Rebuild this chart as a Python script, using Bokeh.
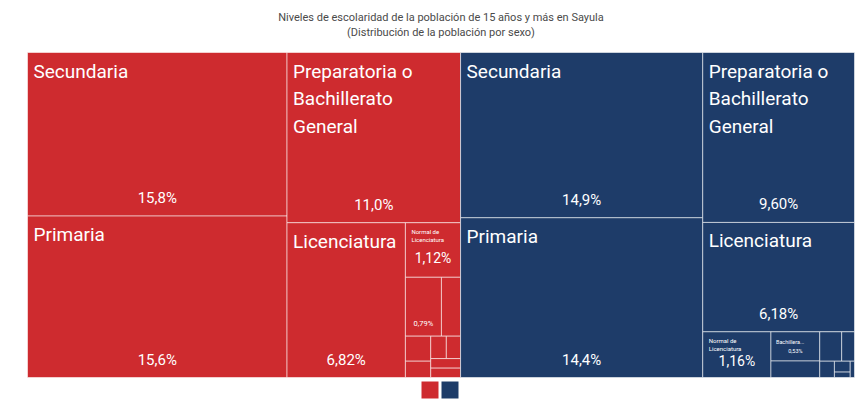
import math
from bokeh.plotting import figure
from bokeh.models import Range1d, ColumnDataSource
from bokeh.core.properties import value
from bokeh.embed import file_html
from bokeh.resources import INLINE

# ---------------- data ----------------
title_line1 = "Niveles de escolaridad de la población de 15 años y más en Sayula"
title_line2 = "(Distribución de la población por sexo)"

groups = ["Mujer", "Hombre"]
group_colors = ["#CE2B2F", "#1E3C69"]

mujer_names = ["Secundaria", "Primaria", "Preparatoria o Bachillerato General", "Licenciatura",
               "Normal de Licenciatura",
               "Estudios Técnicos o Comerciales con Secundaria Terminada",
               "Bachillerato Tecnológico", "Maestría",
               "Estudios Técnicos o Comerciales con Preparatoria Terminada",
               "Preescolar", "Normal Básica", "Especialidad", "Doctorado"]
mujer_values = [15.8, 15.6, 11.0, 6.82, 1.12, 0.79, 0.42, 0.236, 0.154, 0.130, 0.119, 0.106, 0.104]

hombre_names = ["Secundaria", "Primaria", "Preparatoria o Bachillerato General", "Licenciatura",
                "Normal de Licenciatura", "Bachillerato Tecnológico",
                "Estudios Técnicos o Comerciales con Secundaria Terminada", "Maestría",
                "Estudios Técnicos o Comerciales con Preparatoria Terminada",
                "Preescolar", "Normal Básica", "Especialidad", "Doctorado"]
hombre_values = [14.9, 14.4, 9.60, 6.18, 1.16, 0.53, 0.30, 0.24, 0.14, 0.089, 0.064, 0.032, 0.026]

# ---------------- layout (d3-style squarified treemap) ----------------
PHI = (1 + 5 ** 0.5) / 2


def squarify(vals, x0, y0, x1, y1, ratio=PHI):
    rects = []
    n = len(vals)
    i0 = i1 = 0
    total = float(sum(vals))
    while i0 < n:
        dx, dy = x1 - x0, y1 - y0
        s = vals[i1]
        i1 += 1
        mn = mx = s
        alpha = max(dy / dx, dx / dy) / (total * ratio)
        beta = s * s * alpha
        min_ratio = max(mx / beta, beta / mn)
        while i1 < n:
            v = vals[i1]
            s2 = s + v
            mn2, mx2 = min(mn, v), max(mx, v)
            beta = s2 * s2 * alpha
            nr = max(mx2 / beta, beta / mn2)
            if nr > min_ratio:
                break
            s, mn, mx, min_ratio = s2, mn2, mx2, nr
            i1 += 1
        row = vals[i0:i1]
        if dx < dy:
            ny = y0 + dy * s / total
            x = x0
            for v in row:
                w = (x1 - x0) * v / s
                rects.append((x, y0, x + w, ny))
                x += w
            y0 = ny
        else:
            nx = x0 + dx * s / total
            y = y0
            for v in row:
                h = (y1 - y0) * v / s
                rects.append((x0, y, nx, y + h))
                y += h
            x0 = nx
        total -= s
        i0 = i1
    return rects


def fmt_pct(v):
    d = 1 if v >= 10 else 2
    return f"{v:.{d}f}".replace(".", ",") + "%"


def wrap(text, maxw, fs, cw=0.48):
    maxc = max(1, int(maxw / (fs * cw)))
    lines, cur = [], ""
    for w in text.split():
        t = (cur + " " + w).strip()
        if len(t) <= maxc:
            cur = t
        else:
            if cur:
                lines.append(cur)
            cur = w
    if cur:
        lines.append(cur)
    return "\n".join(lines)


def truncate(text, maxw, fs, cw=0.5):
    maxc = max(1, int(maxw / (fs * cw)))
    if len(text) <= maxc:
        return text
    first = text.split()[0]
    return first[: maxc - 3] + "..."


X0, X1, Y0, Y1 = 27, 854, 52, 377
group_totals = [sum(mujer_values), sum(hombre_values)]
group_rects = squarify(group_totals, X0, Y0, X1, Y1)

cells = dict(left=[], right=[], top=[], bottom=[], color=[])
labels = {k: dict(x=[], y=[], text=[]) for k in
          ["nameA", "pctA", "nameB", "pctB", "nameC", "pctC", "pctD"]}

for (gx0, gy0, gx1, gy1), names, vals, col in zip(group_rects, [mujer_names, hombre_names],
                                                   [mujer_values, hombre_values], group_colors):
    for (x0, y0, x1, y1), nm, v in zip(squarify(vals, gx0, gy0, gx1, gy1), names, vals):
        cells["left"].append(x0)
        cells["right"].append(x1)
        cells["top"].append(y0)
        cells["bottom"].append(y1)
        cells["color"].append(col)
        w, h = x1 - x0, y1 - y0
        xc = (x0 + x1) / 2
        if w >= 100 and h >= 90:
            labels["nameA"]["x"].append(x0 + 6)
            labels["nameA"]["y"].append(y0 + 7)
            labels["nameA"]["text"].append(wrap(nm, w - 12, 19))
            labels["pctA"]["x"].append(xc)
            labels["pctA"]["y"].append(y1 - 18)
            labels["pctA"]["text"].append(fmt_pct(v))
        elif w >= 50 and h >= 40:
            labels["nameB"]["x"].append(x0 + 6)
            labels["nameB"]["y"].append(y0 + 5)
            labels["nameB"]["text"].append(wrap(nm, w - 12, 6))
            labels["pctB"]["x"].append(xc)
            labels["pctB"]["y"].append(max(y0 + 29, y1 - 19))
            labels["pctB"]["text"].append(fmt_pct(v))
        elif w >= 40 and h >= 25:
            labels["nameC"]["x"].append(x0 + 5)
            labels["nameC"]["y"].append(y0 + 7)
            labels["nameC"]["text"].append(truncate(nm, w - 12, 5.5))
            labels["pctC"]["x"].append(xc)
            labels["pctC"]["y"].append(y0 + 16)
            labels["pctC"]["text"].append(fmt_pct(v))
        elif w >= 30 and h >= 50:
            labels["pctD"]["x"].append(xc)
            labels["pctD"]["y"].append(y1 - 13)
            labels["pctD"]["text"].append(fmt_pct(v))

# ---------------- figure ----------------
W, H = 860, 405
p = figure(width=W, height=H, x_range=Range1d(0, W), y_range=Range1d(H, 0),
           output_backend="svg", toolbar_location=None, min_border=0,
           background_fill_color="white", border_fill_color="white")
p.axis.visible = False
p.grid.visible = False
p.outline_line_color = None

p.quad(left="left", right="right", top="top", bottom="bottom", fill_color="color",
       line_color="white", line_alpha=0.55, line_width=1, source=ColumnDataSource(cells))

FONT = value("Roboto")


def add_text(key, size, align, baseline, line_h=1.2):
    d = labels[key]
    if not d["x"]:
        return
    p.text(x="x", y="y", text="text", source=ColumnDataSource(d), text_color="white",
           text_font=FONT, text_font_size=f"{size}px", text_align=align,
           text_baseline=baseline, text_line_height=line_h)


add_text("nameA", 19, "left", "top", 1.2)
add_text("pctA", 15, "center", "middle")
add_text("nameB", 6, "left", "top", 1.2)
add_text("pctB", 14, "center", "middle")
add_text("nameC", 5.5, "left", "top")
add_text("pctC", 5.5, "center", "top")
add_text("pctD", 7.5, "center", "middle")

# title
title_x = (X0 + X1) / 2
p.text(x=[title_x, title_x], y=[17, 32], text=[title_line1, title_line2],
       text_font=FONT, text_font_size="11px", text_color="#4a4a4a",
       text_align="center", text_baseline="middle")

# legend swatches
sw = 17
leg_centers = [title_x - 11, title_x + 9]
p.rect(x=leg_centers, y=[389.5, 389.5], width=sw, height=sw, fill_color=group_colors,
       line_color=None)

open("out.html", "w").write(file_html(p, INLINE))
